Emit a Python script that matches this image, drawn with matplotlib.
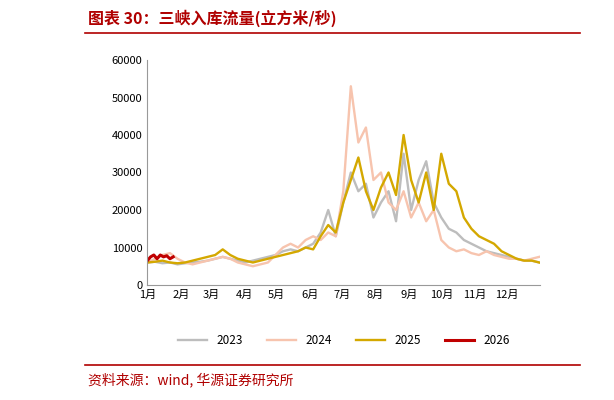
import matplotlib
matplotlib.use("Agg")
import matplotlib.pyplot as plt
from matplotlib.lines import Line2D
import numpy as np

plt.rcParams['font.family'] = ['Noto Sans CJK SC', 'DejaVu Sans']

months = ['1月','2月','3月','4月','5月','6月','7月','8月','9月','10月','11月','12月']
month_days = [0,31,59,90,120,151,181,212,243,273,304,334]

v2023 = [6000,6200,5800,6000,5500,5800,6000,6200,6500,
         7000,7500,7000,6500,6000,6500,7000,7500,
         8000,9000,9500,9000,10000,
         11000,14000,20000,13000,
         22000,30000,25000,27000,18000,
         22000,25000,17000,35000,
         20000,28000,33000,22000,
         18000,15000,14000,12000,11000,
         10000,9000,8500,8000,
         7500,7000,6500,6500,6000]
v2024 = [6000,7000,8000,8500,7000,6000,5500,6000,6500,
         7000,7500,7000,6000,5500,5000,5500,6000,
         8000,10000,11000,10000,12000,
         13000,12000,14000,13000,
         25000,53000,38000,42000,28000,
         30000,22000,20000,25000,
         18000,22000,17000,20000,
         12000,10000,9000,9500,8500,
         8000,9000,8000,7500,
         7000,7000,6500,7000,7500]
v2025 = [6000,6200,6500,6000,5800,6000,6500,7000,7500,
         8000,9500,8000,7000,6500,6000,6500,7000,
         7500,8000,8500,9000,10000,
         9500,13000,16000,14000,
         22000,28000,34000,25000,20000,
         26000,30000,24000,40000,
         28000,22000,30000,20000,
         35000,27000,25000,18000,15000,
         13000,12000,11000,9000,
         8000,7000,6500,6500,6000]
v2026 = [6500,7500,8000,7000,8000,7500,7800,7000,7500]

days_w = np.arange(53) * 7
days_26 = np.arange(len(v2026)) * 3

fig = plt.figure(figsize=(6.14, 4.0), dpi=100)
ax = fig.add_axes([0.24, 0.2875, 0.64, 0.5625])
ax.plot(days_w, v2023, color='#BDBDBD', lw=1.7, label='2023')
ax.plot(days_w, v2024, color='#F7C4AE', lw=1.7, label='2024')
ax.plot(days_w, v2025, color='#D4A800', lw=1.7, label='2025')
ax.plot(days_26, v2026, color='#C00000', lw=2.2, label='2026')
ax.set_xlim(0, 365)
ax.set_ylim(0, 60000)
ax.set_yticks(range(0, 60001, 10000))
ax.set_xticks(month_days)
ax.set_xticklabels(months)
ax.tick_params(labelsize=8, length=0)
for s in ['top', 'right']:
    ax.spines[s].set_visible(False)
for s in ['left', 'bottom']:
    ax.spines[s].set_color('#999999')
ax.legend(loc='upper center', bbox_to_anchor=(0.5, -0.17), ncol=4, frameon=False, fontsize=8.5, handlelength=2.5)

red = '#B00000'
fig.text(0.143, 0.955, '图表 30：三峡入库流量(立方米/秒)', color=red, fontsize=11.5, fontweight='bold', va='center')
fig.add_artist(Line2D([0.138, 0.945], [0.917, 0.917], color=red, lw=1.2))
fig.add_artist(Line2D([0.138, 0.945], [0.087, 0.087], color=red, lw=1.2))
fig.text(0.143, 0.05, '资料来源：wind, 华源证券研究所', color=red, fontsize=10, va='center')
fig.savefig('out.png', dpi=100)
